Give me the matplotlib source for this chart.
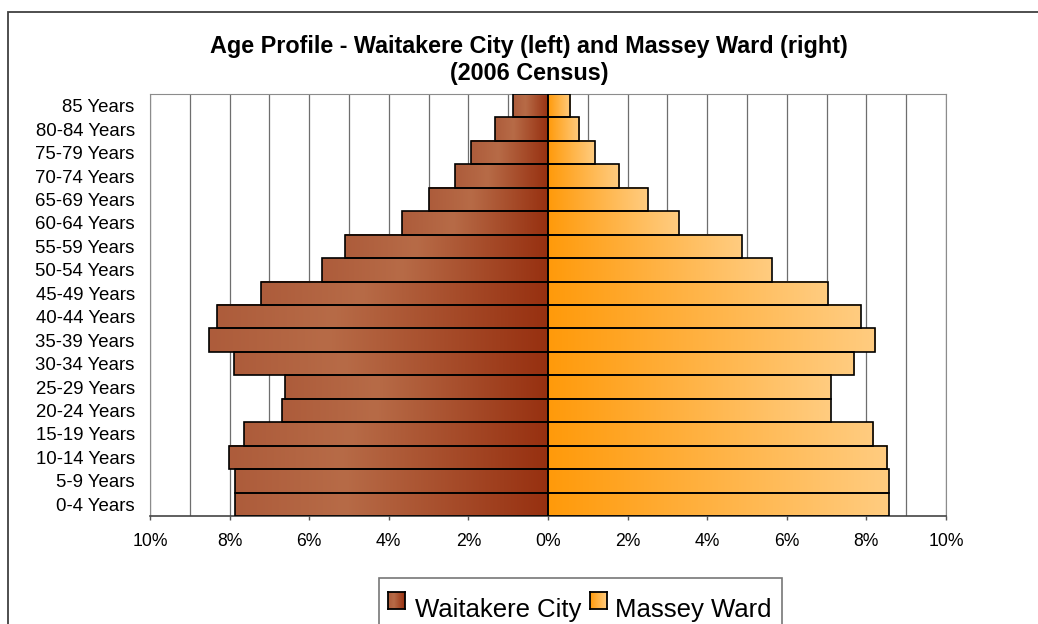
import numpy as np
import matplotlib.pyplot as plt
from matplotlib.colors import LinearSegmentedColormap
from matplotlib.patches import Rectangle

plt.rcParams['font.family'] = ['Liberation Sans', 'DejaVu Sans']

ages = ['0-4 Years', '5-9 Years', '10-14 Years', '15-19 Years', '20-24 Years',
        '25-29 Years', '30-34 Years', '35-39 Years', '40-44 Years', '45-49 Years',
        '50-54 Years', '55-59 Years', '60-64 Years', '65-69 Years', '70-74 Years',
        '75-79 Years', '80-84 Years', '85 Years']
waitakere = [7.87, 7.87, 8.01, 7.65, 6.69, 6.60, 7.88, 8.53, 8.32, 7.21,
             5.68, 5.10, 3.66, 2.99, 2.33, 1.94, 1.32, 0.88]
massey = [8.56, 8.56, 8.52, 8.17, 7.11, 7.11, 7.69, 8.22, 7.86, 7.03,
          5.62, 4.87, 3.29, 2.50, 1.79, 1.18, 0.79, 0.56]
names = ['Waitakere City', 'Massey Ward']

cm_left = LinearSegmentedColormap.from_list('l', [(0, '#AD5C3B'), (0.35, '#B76B47'), (1, '#973010')])
cm_right = LinearSegmentedColormap.from_list('r', [(0, '#FF9A0A'), (1, '#FFCC80')])
grad = np.linspace(0, 1, 256).reshape(1, -1)

fig = plt.figure(figsize=(10.38, 6.24), dpi=100)
ax = fig.add_axes([150 / 1038, 1 - 516 / 624, 796 / 1038, 422 / 624])

y = np.arange(len(ages))
for i in range(len(ages)):
    w = waitakere[i]
    m = massey[i]
    ax.imshow(grad, cmap=cm_left, extent=[-w, 0, i - 0.5, i + 0.5], aspect='auto', zorder=2)
    ax.imshow(grad, cmap=cm_right, extent=[0, m, i - 0.5, i + 0.5], aspect='auto', zorder=2)

ax.barh(y, [-v for v in waitakere], height=1.0, facecolor='none', edgecolor='black', linewidth=1.2, zorder=3)
ax.barh(y, massey, height=1.0, facecolor='none', edgecolor='black', linewidth=1.2, zorder=3)

ax.set_xlim(-10, 10)
ax.set_ylim(-0.5, len(ages) - 0.5)
ax.set_xticks(np.arange(-10, 11, 2))
ax.set_xticklabels(['%d%%' % abs(t) for t in range(-10, 11, 2)])
ax.set_xticks(np.arange(-9, 10, 2), minor=True)
ax.set_yticks(y)
ax.set_yticklabels(ages)
ax.grid(axis='x', which='both', color='#6e6e6e', linewidth=0.9, zorder=0)
ax.set_axisbelow(True)
ax.tick_params(axis='x', which='major', length=3, width=1, color='#555555', pad=9, labelsize=12.7)
ax.tick_params(axis='x', which='minor', length=0)
ax.tick_params(axis='y', length=0, pad=11, labelsize=13.4)
for s in ['top', 'right', 'left']:
    ax.spines[s].set_color('#8c8c8c')
ax.spines['bottom'].set_color('#444444')
ax.spines['bottom'].set_linewidth(1.2)

fig.text(529 / 1038, 1 - 35 / 624,
         'Age Profile - Waitakere City (left) and Massey Ward (right)\n(2006 Census)',
         ha='center', va='top', fontsize=16.8, fontweight='bold', linespacing=1.22)

# outer chart frame
fig.patches.append(Rectangle((8 / 1038, -0.1), 1.2, 1 - 12 / 624 + 0.1, transform=fig.transFigure,
                             facecolor='none', edgecolor='#404040', linewidth=1.3))

# legend
fig.patches.append(Rectangle((379 / 1038, -0.1), (782 - 379) / 1038, 0.1 + 1 - 578 / 624,
                             transform=fig.transFigure, facecolor='white', edgecolor='#777777',
                             linewidth=1.2, zorder=5))
for cmap, xs, xt, lab in [(cm_left, 388, 415, names[0]), (cm_right, 590, 615, names[1])]:
    lax = fig.add_axes([xs / 1038, 1 - 609 / 624, 17 / 1038, 17 / 624], zorder=6)
    lax.imshow(grad, cmap=cmap, aspect='auto')
    lax.set_xticks([])
    lax.set_yticks([])
    for s in lax.spines.values():
        s.set_linewidth(1.3)
    fig.text(xt / 1038, 1 - 617 / 624, lab, ha='left', va='baseline', fontsize=18.5, zorder=7)

fig.savefig('out.png', dpi=100)
